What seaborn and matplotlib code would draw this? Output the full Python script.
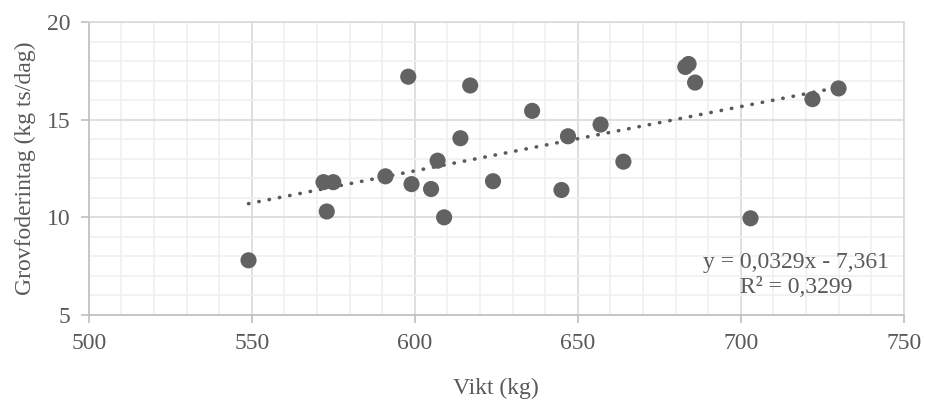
import matplotlib
matplotlib.use("Agg")
import matplotlib.pyplot as plt
from matplotlib.ticker import MultipleLocator
import numpy as np
import pandas as pd
import seaborn as sns

# values
vikt = [549, 572, 575, 573, 591, 598, 599, 605, 607, 609, 614, 617,
        624, 636, 647, 645, 657, 664, 683, 684, 686, 703, 722, 730]
grovfoder = [7.8, 11.8, 11.8, 10.3, 12.1, 17.2, 11.7, 11.45, 12.9, 10.0, 14.05, 16.75,
             11.85, 15.45, 14.15, 11.4, 14.75, 12.85, 17.7, 17.85, 16.9, 9.95, 16.05, 16.6]
trend_slope = 0.0329
trend_intercept = -7.361
trend_text = "y = 0,0329x - 7,361\nR² = 0,3299"

df = pd.DataFrame({"Vikt (kg)": vikt, "Grovfoderintag (kg ts/dag)": grovfoder})

sns.set_theme(style="white")
plt.rcParams["font.family"] = ["Liberation Serif", "DejaVu Serif"]

grey = "#595959"
fig, ax = plt.subplots(figsize=(9.25, 4), dpi=100)
fig.subplots_adjust(left=0.096, right=0.977, top=0.945, bottom=0.2125)

sns.scatterplot(data=df, x="Vikt (kg)", y="Grovfoderintag (kg ts/dag)", ax=ax,
                color="#626262", s=135, edgecolor="none", zorder=3)

tx = np.array([min(vikt), max(vikt)])
ax.plot(tx, trend_slope * tx + trend_intercept, color=grey, lw=2.6,
        linestyle=(0, (0.1, 2.8)), dash_capstyle="round", zorder=2)

ax.set_xlim(500, 750)
ax.set_ylim(5, 20)
ax.xaxis.set_major_locator(MultipleLocator(50))
ax.xaxis.set_minor_locator(MultipleLocator(10))
ax.yaxis.set_major_locator(MultipleLocator(5))
ax.yaxis.set_minor_locator(MultipleLocator(1))
ax.grid(which="major", color="#d9d9d9", lw=1.2)
ax.grid(which="minor", color="#f0f0f0", lw=1.2)
ax.set_axisbelow(True)

for side in ["top", "right"]:
    ax.spines[side].set_color("#d9d9d9")
    ax.spines[side].set_linewidth(1.2)
for side in ["left", "bottom"]:
    ax.spines[side].set_color("#bfbfbf")
    ax.spines[side].set_linewidth(1.2)

ax.tick_params(which="major", direction="out", length=6, width=1.2, color="#bfbfbf",
               labelsize=17, labelcolor=grey, left=True, bottom=True, pad=7)
ax.tick_params(which="minor", length=0)

ax.set_xlabel("Vikt (kg)", fontsize=17, color=grey, labelpad=17)
ax.set_ylabel("Grovfoderintag (kg ts/dag)", fontsize=17, color=grey, labelpad=8)

ax.text(717, 7.05, trend_text, ha="center", va="center", fontsize=17,
        color=grey, linespacing=1.3, zorder=4)

fig.savefig("out.png", dpi=100)
